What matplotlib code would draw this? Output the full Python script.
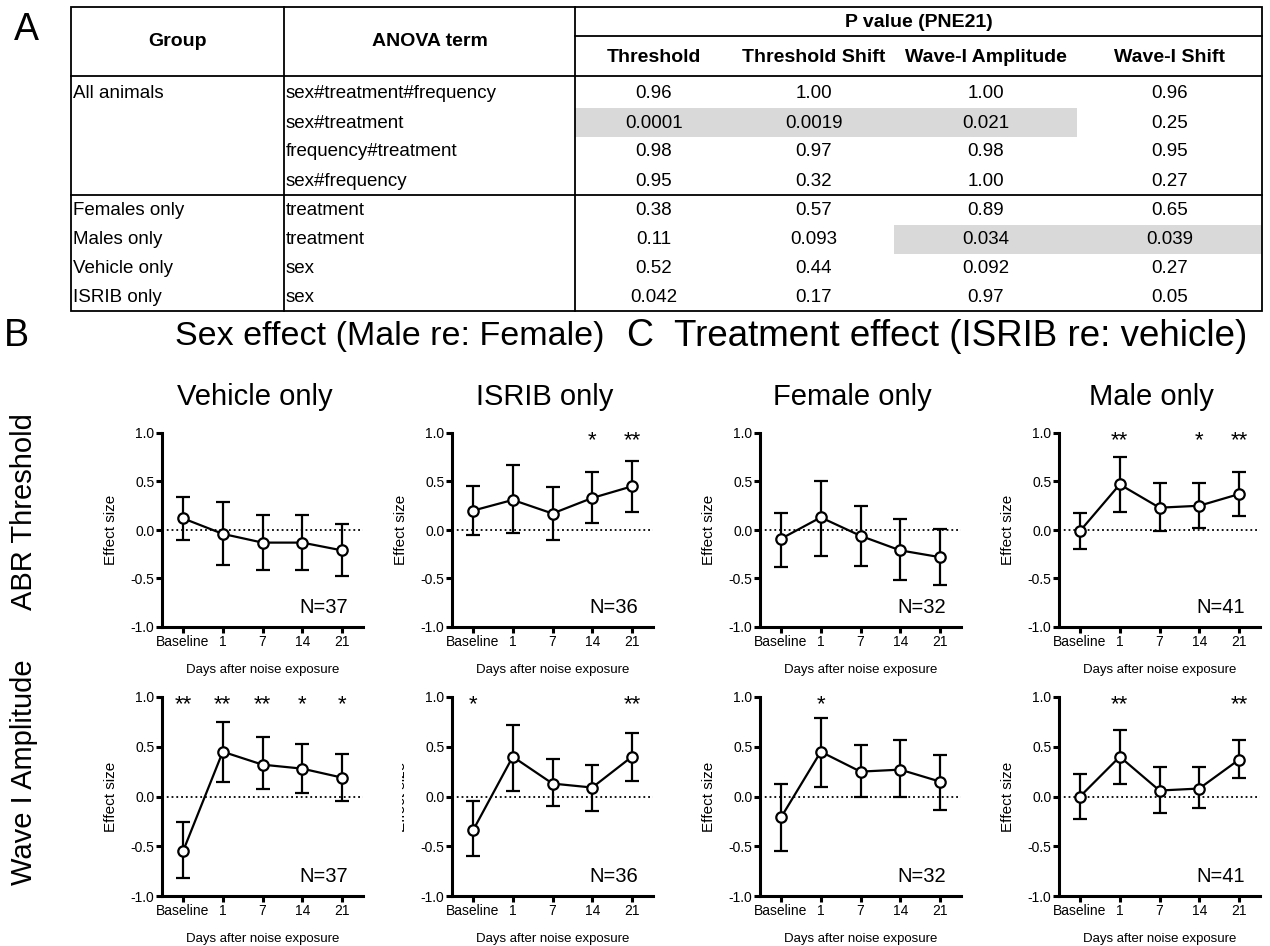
import numpy as np
import matplotlib.pyplot as plt
from matplotlib.patches import Rectangle
from matplotlib.transforms import Bbox, TransformedBbox

plt.rcParams['font.family'] = ['Liberation Sans', 'DejaVu Sans']

# ---------------- table (A) ----------------
groups = ['All animals', '', '', '', 'Females only', 'Males only', 'Vehicle only', 'ISRIB only']
terms = ['sex#treatment#frequency', 'sex#treatment', 'frequency#treatment', 'sex#frequency',
         'treatment', 'treatment', 'sex', 'sex']
measures = ['Threshold', 'Threshold Shift', 'Wave-I Amplitude', 'Wave-I Shift']
p_threshold = ['0.96', '0.0001', '0.98', '0.95', '0.38', '0.11', '0.52', '0.042']
p_thr_shift = ['1.00', '0.0019', '0.97', '0.32', '0.57', '0.093', '0.44', '0.17']
p_wave_amp = ['1.00', '0.021', '0.98', '1.00', '0.89', '0.034', '0.092', '0.97']
p_wave_shift = ['0.96', '0.25', '0.95', '0.27', '0.65', '0.039', '0.27', '0.05']
shaded = [(1, 0), (1, 1), (1, 2), (5, 2), (5, 3)]   # (row, column) of grey cells

# ---------------- panels (B, C) ----------------
days = ['Baseline', '1', '7', '14', '21']
col_titles = ['Vehicle only', 'ISRIB only', 'Female only', 'Male only']
row_titles = ['ABR Threshold', 'Wave I Amplitude']
n_animals = [37, 36, 32, 41]

# ABR threshold effect size: mean, lower, upper
thr_vehicle = [0.12, -0.04, -0.13, -0.13, -0.21]
thr_vehicle_lo = [-0.10, -0.36, -0.41, -0.41, -0.47]
thr_vehicle_hi = [0.34, 0.29, 0.15, 0.15, 0.06]
thr_isrib = [0.20, 0.31, 0.17, 0.33, 0.45]
thr_isrib_lo = [-0.05, -0.03, -0.10, 0.07, 0.19]
thr_isrib_hi = [0.45, 0.67, 0.44, 0.60, 0.71]
thr_female = [-0.09, 0.13, -0.06, -0.21, -0.28]
thr_female_lo = [-0.38, -0.27, -0.37, -0.52, -0.57]
thr_female_hi = [0.18, 0.51, 0.25, 0.11, 0.01]
thr_male = [-0.01, 0.47, 0.23, 0.25, 0.37]
thr_male_lo = [-0.20, 0.19, -0.01, 0.02, 0.14]
thr_male_hi = [0.18, 0.75, 0.48, 0.48, 0.60]

# Wave I amplitude effect size: mean, lower, upper
amp_vehicle = [-0.55, 0.45, 0.32, 0.28, 0.19]
amp_vehicle_lo = [-0.82, 0.15, 0.08, 0.04, -0.05]
amp_vehicle_hi = [-0.26, 0.75, 0.60, 0.53, 0.43]
amp_isrib = [-0.34, 0.40, 0.13, 0.09, 0.40]
amp_isrib_lo = [-0.60, 0.06, -0.10, -0.15, 0.16]
amp_isrib_hi = [-0.05, 0.72, 0.38, 0.32, 0.64]
amp_female = [-0.21, 0.45, 0.25, 0.27, 0.15]
amp_female_lo = [-0.55, 0.10, -0.01, 0.00, -0.14]
amp_female_hi = [0.13, 0.79, 0.52, 0.57, 0.42]
amp_male = [0.00, 0.40, 0.06, 0.08, 0.37]
amp_male_lo = [-0.23, 0.13, -0.17, -0.12, 0.19]
amp_male_hi = [0.23, 0.67, 0.30, 0.30, 0.57]

thr_stars = [['', '', '', '', ''], ['', '', '', '*', '**'],
             ['', '', '', '', ''], ['', '**', '', '*', '**']]
amp_stars = [['**', '**', '**', '*', '*'], ['*', '', '', '', '**'],
             ['', '*', '', '', ''], ['', '**', '', '', '**']]

W, H = 1270, 946
fig = plt.figure(figsize=(W / 100, H / 100), dpi=100)

# overlay in pixel coordinates for the table and labels
ov = fig.add_axes([0, 0, 1, 1])
ov.set_xlim(0, W)
ov.set_ylim(H, 0)
ov.axis('off')

# table geometry
t_left, t_right = 71, 1262
c_grp, c_pv = 284, 575
val_edges = [575, 733, 894, 1077, 1262]
t_top, pv_line, hdr_bot = 7, 36, 76
row_y0, row_h = 94, 29
sec_line = row_y0 + 3.5 * row_h
t_bot = row_y0 + 7.5 * row_h

for (r, c) in shaded:
    ov.add_patch(Rectangle((val_edges[c], row_y0 + (r - 0.5) * row_h),
                           val_edges[c + 1] - val_edges[c], row_h,
                           facecolor='#d9d9d9', edgecolor='none', zorder=1))

lw = 1.3
ov.add_patch(Rectangle((t_left, t_top), t_right - t_left, t_bot - t_top,
                       fill=False, edgecolor='k', lw=lw, zorder=3))
ov.plot([c_grp, c_grp], [t_top, t_bot], color='k', lw=lw, zorder=3)
ov.plot([c_pv, c_pv], [t_top, t_bot], color='k', lw=lw, zorder=3)
ov.plot([c_pv, t_right], [pv_line, pv_line], color='k', lw=lw, zorder=3)
ov.plot([t_left, t_right], [hdr_bot, hdr_bot], color='k', lw=lw, zorder=3)
ov.plot([t_left, t_right], [sec_line, sec_line], color='k', lw=lw, zorder=3)

fs_t = 13.5
fs_h = 14
ov.text((t_left + c_grp) / 2, (t_top + hdr_bot) / 2, 'Group', ha='center', va='center',
        fontsize=fs_h, fontweight='bold')
ov.text((c_grp + c_pv) / 2, (t_top + hdr_bot) / 2, 'ANOVA term', ha='center', va='center',
        fontsize=fs_h, fontweight='bold')
ov.text((c_pv + t_right) / 2, (t_top + pv_line) / 2 + 1, 'P value (PNE21)', ha='center',
        va='center', fontsize=fs_h, fontweight='bold')
for j, m in enumerate(measures):
    ov.text((val_edges[j] + val_edges[j + 1]) / 2, (pv_line + hdr_bot) / 2 + 1, m,
            ha='center', va='center', fontsize=fs_h, fontweight='bold')

pvals = [p_threshold, p_thr_shift, p_wave_amp, p_wave_shift]
for i in range(len(terms)):
    y = row_y0 + i * row_h
    ov.text(t_left + 2, y, groups[i], ha='left', va='center', fontsize=fs_t)
    ov.text(c_grp + 2, y, terms[i], ha='left', va='center', fontsize=fs_t)
    for j in range(4):
        ov.text((val_edges[j] + val_edges[j + 1]) / 2, y, pvals[j][i],
                ha='center', va='center', fontsize=fs_t)

# panel letters and headings
ov.text(26, 30, 'A', ha='center', va='center', fontsize=27)
ov.text(16, 336, 'B', ha='center', va='center', fontsize=27)
ov.text(640, 336, 'C', ha='center', va='center', fontsize=27)
ov.text(175, 336, 'Sex effect (Male re: Female)', ha='left', va='center', fontsize=24.5)
ov.text(674, 336, 'Treatment effect (ISRIB re: vehicle)', ha='left', va='center', fontsize=26.5)

spine_x = [162, 452, 760, 1059]
row_top = [433, 697]
row_bot = [627, 896]
ax_w = 201
for j, t in enumerate(col_titles):
    ov.text(spine_x[j] + ax_w / 2 - 8, 397, t, ha='center', va='center', fontsize=21)
ov.text(24, 512, row_titles[0], ha='center', va='center', rotation=90, fontsize=21)
ov.text(24, 772, row_titles[1], ha='center', va='center', rotation=90, fontsize=21)

means = [[thr_vehicle, thr_isrib, thr_female, thr_male],
         [amp_vehicle, amp_isrib, amp_female, amp_male]]
lows = [[thr_vehicle_lo, thr_isrib_lo, thr_female_lo, thr_male_lo],
        [amp_vehicle_lo, amp_isrib_lo, amp_female_lo, amp_male_lo]]
highs = [[thr_vehicle_hi, thr_isrib_hi, thr_female_hi, thr_male_hi],
         [amp_vehicle_hi, amp_isrib_hi, amp_female_hi, amp_male_hi]]
stars = [thr_stars, amp_stars]

x = np.arange(len(days))
for r in range(2):
    for c in range(4):
        ax = fig.add_axes([spine_x[c] / W, 1 - row_bot[r] / H,
                           ax_w / W, (row_bot[r] - row_top[r]) / H])
        m = np.array(means[r][c])
        lo = np.array(lows[r][c])
        hi = np.array(highs[r][c])
        ax.axhline(0, color='k', ls=':', lw=1.3, zorder=1)
        ax.errorbar(x, m, yerr=[m - lo, hi - m], fmt='o-', color='k', mfc='white',
                    mec='k', ms=7.5, mew=1.6, lw=1.6, elinewidth=1.6, capsize=5,
                    capthick=1.6, zorder=3)
        for k, s in enumerate(stars[r][c]):
            if s:
                ax.text(x[k], 0.92, s, ha='center', va='center', fontsize=16)
        ax.text(4.15, -0.8, 'N=%d' % n_animals[c], ha='right', va='center', fontsize=14.5)
        ax.set_xlim(-0.53, 4.53)
        ax.set_ylim(-1, 1)
        ax.set_yticks([-1, -0.5, 0, 0.5, 1])
        ax.set_yticklabels(['-1.0', '-0.5', '0.0', '0.5', '1.0'])
        ax.set_xticks(x)
        ax.set_xticklabels(days)
        for sp in ['top', 'right']:
            ax.spines[sp].set_visible(False)
        for sp in ['left', 'bottom']:
            ax.spines[sp].set_linewidth(2.2)
        ax.tick_params(axis='both', width=2.2, length=4, labelsize=10, pad=1.5)
        lab = ax.set_ylabel('Effect size', fontsize=11, labelpad=9)
        ax.set_xlabel('Days after noise exposure', fontsize=9.5, labelpad=11)
        if r == 1 and c == 1:
            # in the source figure this label is partly cut away
            lab.set_clip_box(TransformedBbox(Bbox([[402 / W, 0], [1, 1]]), fig.transFigure))
            lab.set_clip_on(True)

fig.savefig('out.png', dpi=100)
